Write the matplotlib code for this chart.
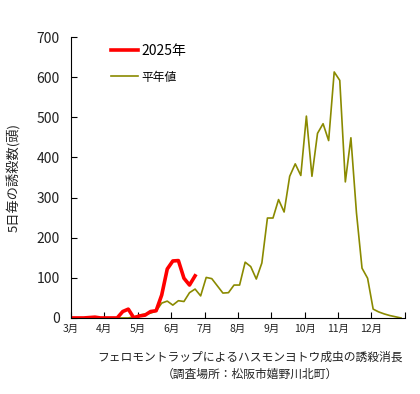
import numpy as np
import matplotlib
matplotlib.use('Agg')
import matplotlib.pyplot as plt

plt.rcParams['font.family'] = ['Noto Sans CJK JP', 'DejaVu Sans']

# データ(5日毎の誘殺数)
meses = ['3月', '4月', '5月', '6月', '7月', '8月', '9月', '10月', '11月', '12月']

anio_2025 = [0, 0, 0, 1, 2, 0, 0, 0, 0, 16, 22, 0, 5, 7, 16, 18, 57,
             122, 142, 143, 99, 82, 105]

heinen = [0, 0, 0, 0, 0, 0, 0, 0, 0, 0, 0, 3, 7, 10, 12, 17, 37, 42, 32,
          43, 41, 63, 72, 55, 101, 98, 80, 62, 63, 82, 82, 139, 128, 97,
          137, 249, 249, 295, 264, 353, 384, 355, 503, 353, 460, 484, 442,
          613, 592, 339, 449, 262, 124, 99, 22, 15, 10, 6, 3, 0]

x_2025 = np.arange(len(anio_2025)) + 0.3
x_hei = np.arange(len(heinen)) + 0.3

fig = plt.figure(figsize=(4.2, 3.94), dpi=100)
ax = fig.add_axes([0.169, 0.193, 0.795, 0.713])

ax.plot(x_hei, heinen, color='#8a8a00', linewidth=1.2, label='平年値')
ax.plot(x_2025, anio_2025, color='#ff0000', linewidth=2.6, label='2025年')

ax.set_xlim(0, 60)
ax.set_ylim(0, 700)
ax.set_yticks(range(0, 701, 100))
ax.set_xticks(np.arange(0, 61, 6))
ax.set_xticklabels(meses + [''], fontsize=7.5, color='#222222')
ax.tick_params(axis='y', direction='in', length=4, labelsize=10,
               labelcolor='#222222', pad=8)
ax.tick_params(axis='x', direction='in', length=4, pad=4)

for s in ['top', 'right']:
    ax.spines[s].set_visible(False)

ax.set_ylabel('5日毎の誘殺数(頭)', fontsize=9.5, color='#222222', labelpad=11)

h, l = ax.get_legend_handles_labels()
leg = ax.legend(h[::-1], l[::-1], loc='upper left', bbox_to_anchor=(0.083, 1.02),
                frameon=False, fontsize=10, handlelength=1.9,
                handletextpad=0.3, labelspacing=0.95)
leg.get_texts()[1].set_fontsize(8.5)

fig.text(0.595, 0.085, 'フェロモントラップによるハスモンヨトウ成虫の誘殺消長',
         ha='center', fontsize=8.5, color='#222222')
fig.text(0.595, 0.042, '（調査場所：松阪市嬉野川北町）',
         ha='center', fontsize=8.5, color='#222222')

fig.savefig('out.png', dpi=100)
